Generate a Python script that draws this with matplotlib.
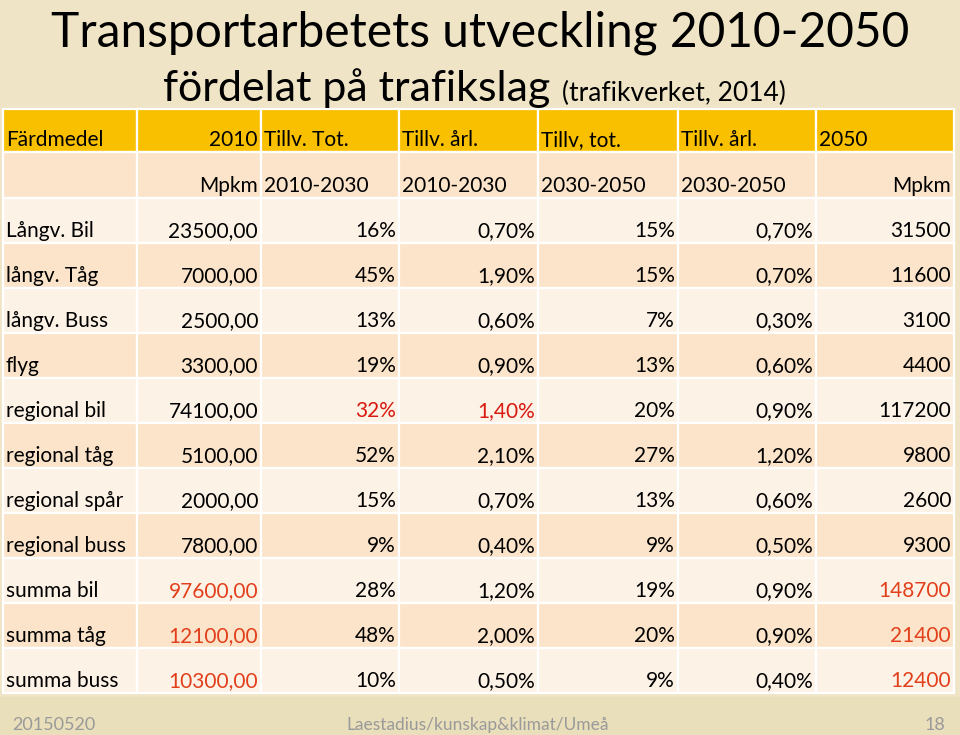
import matplotlib
matplotlib.use("Agg")
import matplotlib.pyplot as plt
from matplotlib.patches import Rectangle

# ---- data ----
header = ["Färdmedel", "2010", "Tillv. Tot.", "Tillv. årl.", "Tillv, tot.", "Tillv. årl.", "2050"]
units = ["", "Mpkm", "2010-2030", "2010-2030", "2030-2050", "2030-2050", "Mpkm"]
modes = ["Långv. Bil", "långv. Tåg", "långv. Buss", "flyg", "regional bil", "regional tåg",
         "regional spår", "regional buss", "summa bil", "summa tåg", "summa buss"]
mpkm_2010 = ["23500,00", "7000,00", "2500,00", "3300,00", "74100,00", "5100,00",
             "2000,00", "7800,00", "97600,00", "12100,00", "10300,00"]
tot_2010_2030 = ["16%", "45%", "13%", "19%", "32%", "52%", "15%", "9%", "28%", "48%", "10%"]
arl_2010_2030 = ["0,70%", "1,90%", "0,60%", "0,90%", "1,40%", "2,10%", "0,70%", "0,40%", "1,20%", "2,00%", "0,50%"]
tot_2030_2050 = ["15%", "15%", "7%", "13%", "20%", "27%", "13%", "9%", "19%", "20%", "9%"]
arl_2030_2050 = ["0,70%", "0,70%", "0,30%", "0,60%", "0,90%", "1,20%", "0,60%", "0,50%", "0,90%", "0,90%", "0,40%"]
mpkm_2050 = ["31500", "11600", "3100", "4400", "117200", "9800", "2600", "9300", "148700", "21400", "12400"]

title1 = "Transportarbetets utveckling 2010-2050"
title2 = "fördelat på trafikslag"
title2_small = "(trafikverket, 2014)"
footer_left = "20150520"
footer_mid = "Laestadius/kunskap&klimat/Umeå"
footer_right = "18"

# ---- style ----
FONT = ["Lato", "DejaVu Sans"]
BG = "#EFE5C6"
FOOT_BG = "#E9DFBA"
HEAD = "#F9C000"
DARK = "#FBE4C9"
LIGHT = "#FDF2E6"
RED = "#D81A10"
ORANGE = "#E2401C"

W, H = 960, 735
fig = plt.figure(figsize=(W / 100, H / 100), dpi=100)
fig.patch.set_facecolor(BG)
ax = fig.add_axes([0, 0, 1, 1])
ax.set_xlim(0, W)
ax.set_ylim(H, 0)
ax.axis("off")

ax.add_patch(Rectangle((0, 697), W, H - 697, facecolor=FOOT_BG, edgecolor="none"))

col_edges = [3, 137, 261, 399, 538, 678, 816, 954]
row_edges = [109, 152, 198, 243, 288, 333, 378, 423, 468, 513, 558, 603, 648, 693]

columns = [modes, mpkm_2010, tot_2010_2030, arl_2010_2030, tot_2030_2050, arl_2030_2050, mpkm_2050]
nrows = len(modes)
FS = 15

def cell(r, c, text, align, color="black", fill=None):
    x0, x1 = col_edges[c], col_edges[c + 1]
    y0, y1 = row_edges[r], row_edges[r + 1]
    ax.add_patch(Rectangle((x0, y0), x1 - x0, y1 - y0, facecolor=fill,
                           edgecolor="white", linewidth=1.6))
    if text:
        if align == "left":
            tx, ha = x0 + 3, "left"
        else:
            tx, ha = x1 - 3, "right"
        ax.text(tx, y1 - 6, text, ha=ha, va="baseline", fontsize=FS,
                color=color, family=FONT)

# header row
for c, t in enumerate(header):
    cell(0, c, t, "right" if c == 1 else "left", fill=HEAD)
# units row
for c, t in enumerate(units):
    cell(1, c, t, "right" if c in (1, 6) else "left", fill=DARK)
# data rows
for i in range(nrows):
    fill = LIGHT if i % 2 == 0 else DARK
    for c, col in enumerate(columns):
        color = "black"
        if modes[i].startswith("summa") and c in (1, 6):
            color = ORANGE
        if modes[i] == "regional bil" and c in (2, 3):
            color = RED
        cell(i + 2, c, col[i], "left" if c == 0 else "right", color=color, fill=fill)

# titles
ax.text(480, 46, title1, ha="center", va="baseline", fontsize=34.5, family=FONT, color="black")
t2 = ax.text(163, 101, title2, ha="left", va="baseline", fontsize=31, family=FONT, color="black")
fig.canvas.draw()
x_end = ax.transData.inverted().transform(t2.get_window_extent().get_points())[1][0]
ax.text(x_end + 12, 101, title2_small, ha="left", va="baseline", fontsize=19, family=FONT, color="black")

# footer
ax.text(12, 730, footer_left, ha="left", va="baseline", fontsize=13, family=FONT, color="#9A9A9A")
ax.text(478, 730, footer_mid, ha="center", va="baseline", fontsize=12.5, family=FONT, color="#9A9A9A")
ax.text(945, 730, footer_right, ha="right", va="baseline", fontsize=13, family=FONT, color="#9A9A9A")

fig.savefig("out.png", dpi=100, facecolor=BG)
